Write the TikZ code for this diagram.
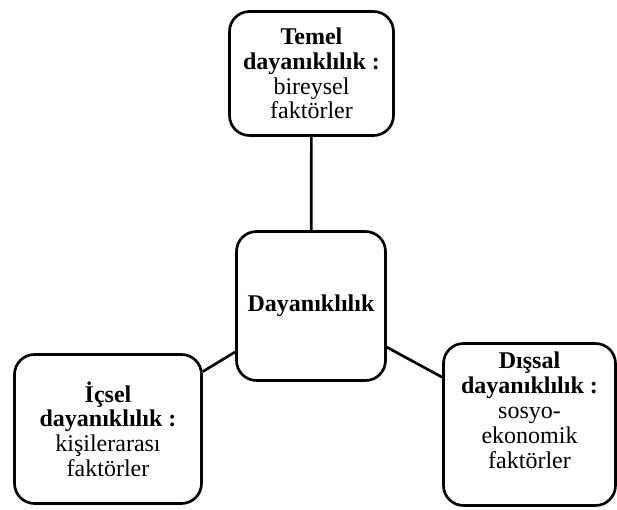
\documentclass[tikz,border=0pt]{standalone}
\usepackage{fontspec}
\setmainfont{Liberation Serif}
\begin{document}
\begin{tikzpicture}[x=0.75pt, y=-0.75pt,
  box/.style={draw, line width=2pt, rounded corners=15pt, fill=white,
    align=center, inner sep=0pt,
    font=\fontsize{18}{18.5}\selectfont},
  link/.style={line width=2pt},
  lbl/.style={align=center, inner sep=0pt,
    font=\fontsize{18}{18.8}\selectfont}]
\useasboundingbox (0,0) rectangle (617,510);

% central concept
\node[box, minimum width=111.75pt, minimum height=111.75pt] (core) at (311,306)
  {\textbf{Dayanıklılık}};

% three dimensions of resilience
\node[box, minimum width=123pt, minimum height=93pt] (basic) at (311.5,73.5)
  {\textbf{Temel}\\\textbf{dayanıklılık :}\\bireysel\\faktörler};
\node[box, minimum width=140.25pt, minimum height=111.75pt] (inner) at (108,429)
  {\textbf{İçsel}\\\textbf{dayanıklılık :}\\kişilerarası\\faktörler};
\node[box, minimum width=129pt, minimum height=121.5pt] (outer) at (529.5,424.5) {};
\node[lbl] (outertext) at (529.5,410)
  {\textbf{Dışsal}\\\textbf{dayanıklılık :}\\sosyo-\\ekonomik\\faktörler};

% connectors
\draw[link] (basic) -- (core);
\draw[link] (core) -- (inner);
\draw[link] (core) -- (outer);
\end{tikzpicture}
\end{document}
